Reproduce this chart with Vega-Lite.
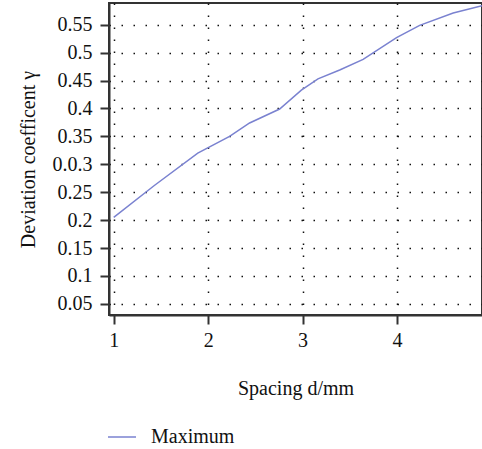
{
  "$schema": "https://vega.github.io/schema/vega-lite/v6.json",
  "autosize": {"type": "none"},
  "width": 373,
  "height": 312,
  "padding": {"left": 109, "top": 3, "right": 0, "bottom": 134},
  "background": "white",
  "config": {
    "font": "Liberation Serif",
    "view": {"stroke": "#333333", "strokeWidth": 2},
    "axis": {
      "labelFont": "Liberation Serif",
      "titleFont": "Liberation Serif",
      "labelFontSize": 20,
      "titleFontSize": 20,
      "titleFontWeight": "normal",
      "labelColor": "#111111",
      "titleColor": "#111111",
      "domainColor": "#333333",
      "domainWidth": 2,
      "tickColor": "#333333",
      "tickWidth": 2,
      "tickSize": 9,
      "grid": true,
      "gridColor": "#111111",
      "gridDash": [1.5, 10.5],
      "gridWidth": 1.5,
      "gridOpacity": 1
    },
    "legend": {
      "labelFont": "Liberation Serif",
      "labelFontSize": 20,
      "labelColor": "#111111"
    }
  },
  "data": {
    "values": [
      {"d": 1.0, "v": 0.205, "s": "Maximum"},
      {"d": 1.43, "v": 0.262, "s": "Maximum"},
      {"d": 1.89, "v": 0.32, "s": "Maximum"},
      {"d": 2.227, "v": 0.35, "s": "Maximum"},
      {"d": 2.439, "v": 0.374, "s": "Maximum"},
      {"d": 2.757, "v": 0.399, "s": "Maximum"},
      {"d": 2.987, "v": 0.433, "s": "Maximum"},
      {"d": 3.163, "v": 0.453, "s": "Maximum"},
      {"d": 3.393, "v": 0.469, "s": "Maximum"},
      {"d": 3.641, "v": 0.488, "s": "Maximum"},
      {"d": 3.995, "v": 0.527, "s": "Maximum"},
      {"d": 4.24, "v": 0.549, "s": "Maximum"},
      {"d": 4.595, "v": 0.571, "s": "Maximum"},
      {"d": 4.9, "v": 0.584, "s": "Maximum"}
    ]
  },
  "mark": {"type": "line", "strokeWidth": 1.5, "clip": true},
  "encoding": {
    "x": {
      "field": "d",
      "type": "quantitative",
      "scale": {"domain": [0.95, 4.9], "nice": false, "zero": false},
      "axis": {
        "values": [1, 2, 3, 4],
        "title": "Spacing d/mm",
        "labelFontSize": 20,
        "titleFontSize": 20,
        "titlePadding": 28,
        "labelPadding": 6
      }
    },
    "y": {
      "field": "v",
      "type": "quantitative",
      "scale": {"domain": [0.03, 0.589], "nice": false, "zero": false},
      "axis": {
        "values": [0.05, 0.1, 0.15, 0.2, 0.25, 0.3, 0.35, 0.4, 0.45, 0.5, 0.55],
        "labelExpr": "abs(datum.value - 0.3) < 1e-9 ? '0.0.3' : '' + datum.value",
        "title": "Deviation coefficent γ",
        "labelFontSize": 20,
        "titleFontSize": 20,
        "titlePadding": 14,
        "labelPadding": 8
      }
    },
    "color": {
      "field": "s",
      "type": "nominal",
      "scale": {"range": ["#7a82d0"]},
      "legend": {
        "title": null,
        "orient": "none",
        "legendX": -2,
        "legendY": 419,
        "symbolType": "stroke",
        "symbolSize": 784,
        "symbolStrokeWidth": 1.5,
        "labelOffset": 14,
        "labelFontSize": 20
      }
    }
  }
}
